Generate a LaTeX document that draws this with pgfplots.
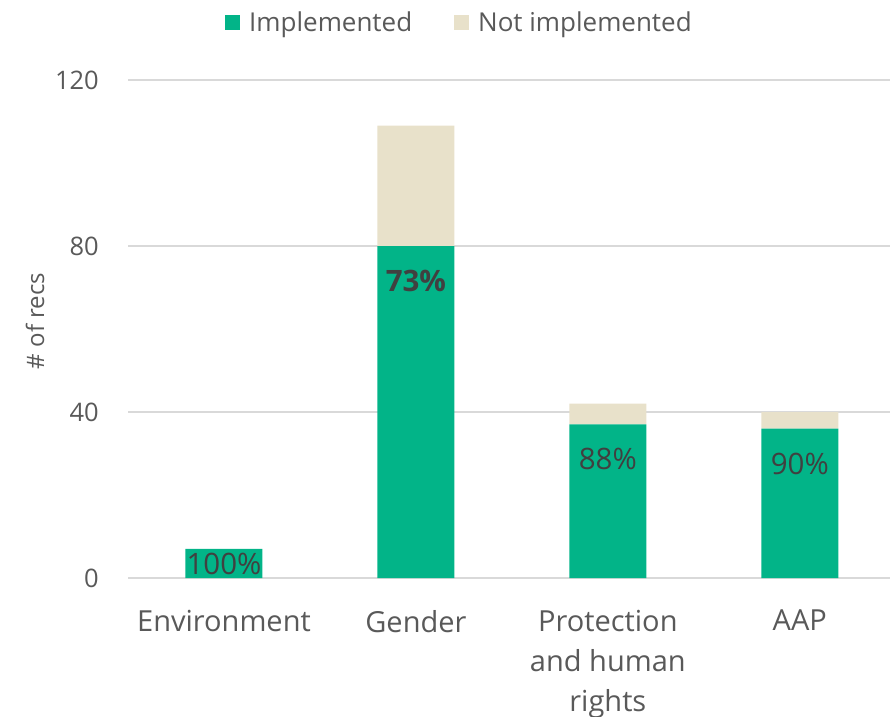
\documentclass[border=0pt]{standalone}
\usepackage{pgfplots}
\pgfplotsset{compat=1.18}
\usepackage{fontspec}
\setmainfont{Open Sans}
\definecolor{impl}{HTML}{02B488}
\definecolor{notimpl}{HTML}{E8E1CA}
\definecolor{txt}{HTML}{595959}
\definecolor{lbl}{HTML}{404040}
\definecolor{gridc}{HTML}{D9D9D9}
\begin{document}
\begin{tikzpicture}
\useasboundingbox (0pt,0pt) rectangle (890pt,716pt);
\begin{axis}[
  at={(128pt,138pt)}, anchor=south west,
  scale only axis, width=762pt, height=498pt,
  ybar stacked, bar width=77pt,
  xmin=-0.5, xmax=3.47, ymin=0, ymax=120,
  xtick={0,1,2,3},
  xticklabels={Environment,Gender,{Protection\\and human\\rights},AAP},
  ytick={0,40,80,120},
  ymajorgrids, grid style={gridc, line width=1.3pt},
  axis line style={draw=none},
  major tick length=0pt,
  /pgf/number format/assume math mode=true,
  tick label style={font=\fontsize{25.5}{30}\selectfont, text=txt},
  xticklabel style={font=\fontsize{29}{40}\selectfont, align=center, anchor=north, inner sep=0pt, yshift=-32pt},
  yticklabel style={anchor=east, inner sep=0pt, xshift=-29pt},
  ylabel={\# of recs},
  ylabel style={font=\fontsize{24}{28}\selectfont, text=txt, at={(axis description cs:-0.122,0.516)}, anchor=center},
  legend style={at={(axis description cs:0.435,1)}, anchor=center, yshift=57.5pt, draw=none, fill=none,
    legend columns=2, font=\fontsize{26}{30}\selectfont, text=txt,
    /tikz/every even column/.append style={column sep=40pt}},
  legend image code/.code={\fill[#1] (0pt,-7.5pt) rectangle (15pt,7.5pt); \path (22pt,0pt);},
]
\addplot[fill=impl, draw=none,
  nodes near coords, point meta=explicit symbolic,
  visualization depends on=rawy\as\rawy,
  nodes near coords style={font=\fontsize{29.5}{32}\selectfont, text=lbl, anchor=center,
    yshift={ifthenelse(\rawy<10,0,\rawy*2.075-35)}}]
  coordinates {(0,7) [100\%] (1,80) [\textbf{73\%}] (2,37) [88\%] (3,36) [90\%]};
\addlegendentry{Implemented}
\addplot[fill=notimpl, draw=none]
  coordinates {(0,0) (1,29) (2,5) (3,4)};
\addlegendentry{Not implemented}
\end{axis}
\end{tikzpicture}
\end{document}
